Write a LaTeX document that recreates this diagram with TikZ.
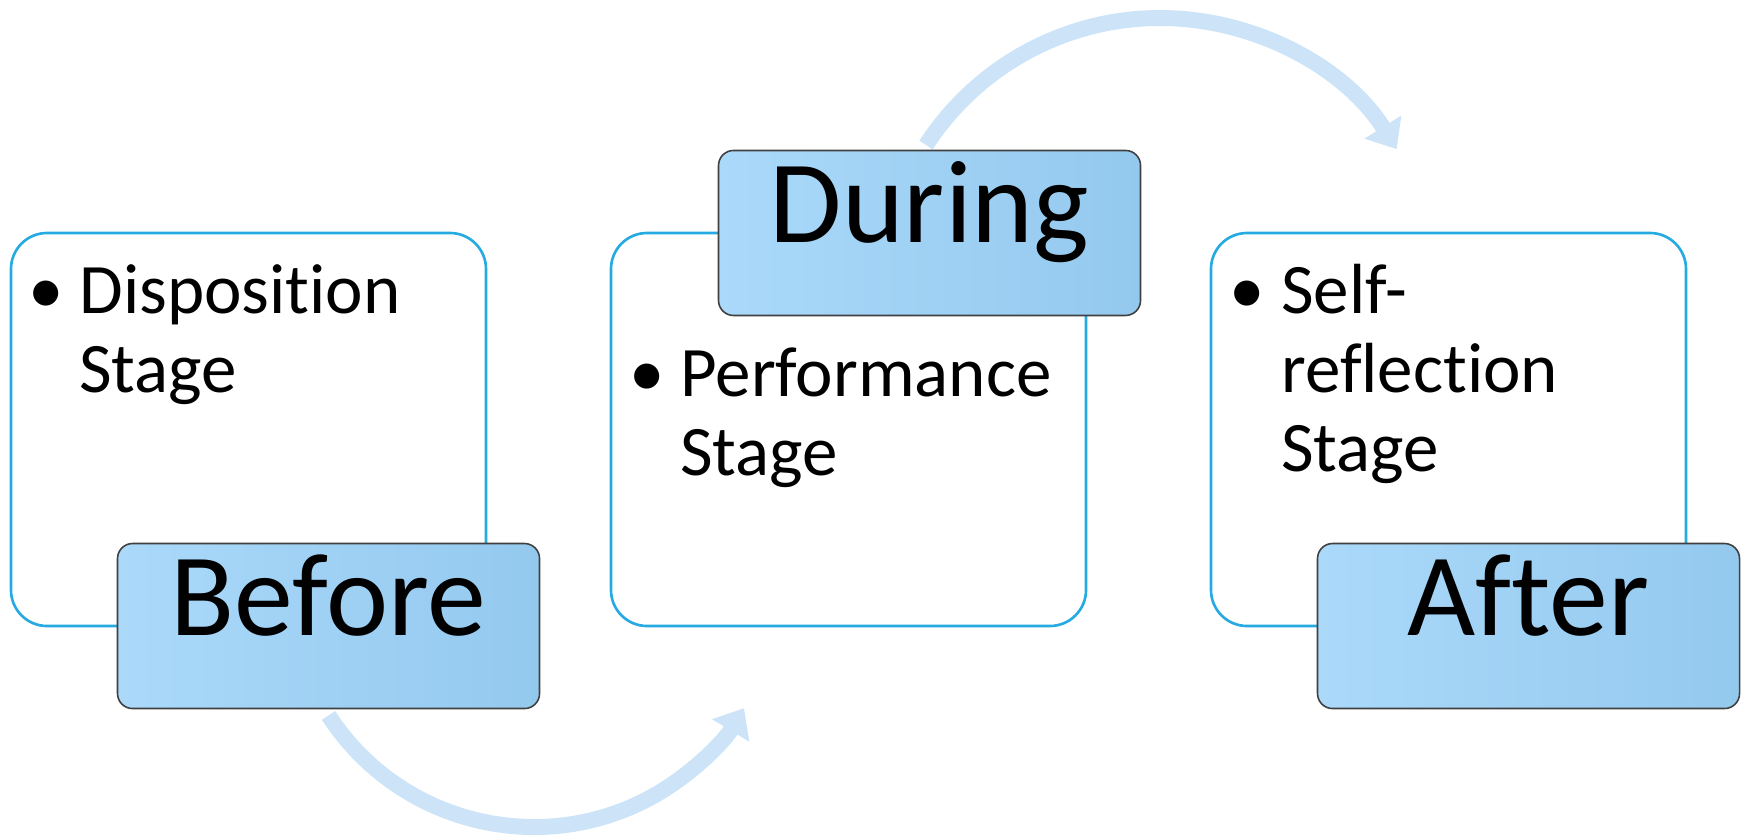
\documentclass[tikz,border=0pt]{standalone}
\usepackage{fontspec}
\setmainfont{Carlito}[Ligatures=NoCommon]
\usetikzlibrary{arrows.meta,positioning}

\definecolor{stageblue}{RGB}{38,170,226}
\definecolor{tabtop}{RGB}{170,217,250}
\definecolor{tabbot}{RGB}{148,201,238}
\definecolor{flowblue}{RGB}{205,228,248}

% lines of a bullet item, baseline on the first line
\newcommand{\itemlines}[1]{\begin{tabular}[t]{@{}l@{}}#1\end{tabular}}

\begin{document}
\begin{tikzpicture}[node distance=6cm,
    stage/.style={draw=stageblue,fill=white,line width=0.75pt,rounded corners=3.6mm,minimum width=4.75cm,minimum height=3.93cm},
    tab/.style={draw=black!75,line width=0.45pt,rounded corners=1.5mm,left color=tabtop,right color=tabbot,minimum width=4.22cm,minimum height=1.65cm,font=\fontsize{33.5}{40}\selectfont,text height=0.7em,text depth=0.144em},
    item/.style={anchor=base west,inner sep=0pt,font=\fontsize{20.2}{22.4}\selectfont},
    dot/.style={anchor=base,inner sep=0pt,font=\fontsize{20.2}{22.4}\selectfont},
    flow/.style={draw=flowblue,line width=1.6mm,-{Triangle[length=2.6mm,width=4.2mm]}}]
    \useasboundingbox (0,0) rectangle (17.43,8.39);

    \node[stage] (out1) at (2.485,4.095) {};
    \node[stage] (out2) [right of=out1]  {};
    \node[stage] (out3) [right of=out2]  {};

    % curved arrows behind the tabs
    \coordinate (c1) at (5.34,2.57);
    \coordinate (c2) at (11.60,5.42);
    \draw[flow] ([shift={(213:2.45)}]c1) arc[start angle=213,end angle=329,radius=2.45];
    \draw[flow] ([shift={(147:2.79)}]c2) arc[start angle=147,end angle=32,radius=2.79];

    \node[tab,anchor=south east] (before) at ([shift={(0.53,-0.82)}]out1.south east) {Before};
    \node[tab,anchor=north east] (during) at ([shift={(0.54,0.82)}]out2.north east)  {During};
    \node[tab,anchor=south east] (after)  at ([shift={(0.53,-0.82)}]out3.south east) {After};

    \node[dot]  (d1) at ([shift={(0.36,-0.82)}]out1.north west) {•};
    \node[item] (t1) at ([shift={(0.69,-0.82)}]out1.north west) {\itemlines{Disposition\\Stage}};
    \node[dot]  (d2) at ([shift={(0.37,-1.65)}]out2.north west) {•};
    \node[item] (t2) at ([shift={(0.70,-1.65)}]out2.north west) {\itemlines{Performance\\Stage}};
    \node[dot]  (d3) at ([shift={(0.37,-0.82)}]out3.north west) {•};
    \node[item] (t3) at ([shift={(0.71,-0.82)}]out3.north west) {\itemlines{Self-\\reflection\\Stage}};
\end{tikzpicture}
\end{document}
